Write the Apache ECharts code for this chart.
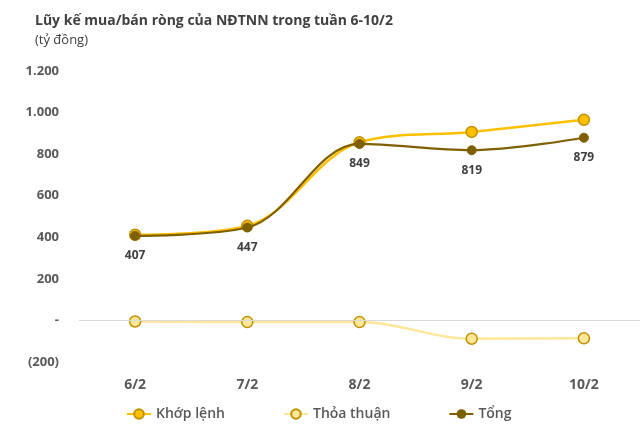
<!DOCTYPE html>
<html><head><meta charset="utf-8">
<script src="https://cdn.jsdelivr.net/npm/echarts@6/dist/echarts.min.js"></script>
<style>html,body{margin:0;padding:0;background:#fff}#c{width:640px;height:434px}</style>
</head><body><div id="c"></div>
<script>
const categories = ['6/2','7/2','8/2','9/2','10/2'];
const khopLenh = [412, 455, 857, 907, 965];
const thoaThuan = [-5, -8, -8, -88, -86];
const tong = [407, 447, 849, 819, 879];
const yTicks = [-200, 0, 200, 400, 600, 800, 1000, 1200];

const font = '"Open Sans", sans-serif';
function fmt(v){
  if (v === 0) return '-';
  const s = Math.abs(v).toString().replace(/\B(?=(\d{3})+(?!\d))/g, '.');
  return v < 0 ? '(' + s + ')' : s;
}
const chart = echarts.init(document.getElementById('c'));
chart.setOption({
  animation: false,
  title: {
    text: 'Lũy kế mua/bán ròng của NĐTNN trong tuần 6-10/2',
    subtext: '(tỷ đồng)',
    left: 30, top: 9, itemGap: 6,
    textStyle: {fontFamily: font, fontSize: 14, fontWeight: 'bold', color: '#404040'},
    subtextStyle: {fontFamily: font, fontSize: 13, color: '#404040'}
  },
  legend: {
    bottom: 8, left: 121, itemWidth: 24, itemHeight: 12, itemGap: 58,
    textStyle: {fontFamily: font, fontSize: 14, fontWeight: 600, color: '#595959'},
    data: ['Khớp lệnh', 'Thỏa thuận', 'Tổng']
  },
  grid: {left: 79, right: 0, top: 71, bottom: 72},
  xAxis: {
    type: 'category', data: categories, boundaryGap: true,
    axisLine: {show: false}, axisTick: {show: false},
    axisLabel: {margin: 16, fontFamily: font, fontSize: 14, fontWeight: 'bold', color: '#595959'}
  },
  yAxis: {
    type: 'value', min: yTicks[0], max: yTicks[yTicks.length-1], interval: 200,
    splitLine: {show: false}, axisLine: {show: false}, axisTick: {show: false},
    axisLabel: {margin: 20, fontFamily: font, fontSize: 13, fontWeight: 'bold', color: '#595959', formatter: fmt}
  },
  series: [
    {
      name: 'Khớp lệnh', type: 'line', data: khopLenh, smooth: 0.35,
      symbol: 'circle', symbolSize: 11,
      lineStyle: {color: '#FFC000', width: 2.5},
      itemStyle: {color: '#FFC000', borderColor: '#BF9000', borderWidth: 1.5},
      z: 2,
      markLine: {silent: true, symbol: 'none', label: {show: false},
        lineStyle: {color: '#d9d9d9', type: 'solid', width: 1},
        data: [{yAxis: 0}]}
    },
    {
      name: 'Thỏa thuận', type: 'line', data: thoaThuan, smooth: 0.35,
      symbol: 'circle', symbolSize: 11,
      lineStyle: {color: '#FFE699', width: 2.5},
      itemStyle: {color: '#FFE699', borderColor: '#BF9000', borderWidth: 1.5},
      z: 2
    },
    {
      name: 'Tổng', type: 'line', data: tong, smooth: 0.35,
      symbol: 'circle', symbolSize: 9,
      lineStyle: {color: '#7F6000', width: 2.2},
      itemStyle: {color: '#7F6000', borderColor: '#7F6000'},
      label: {show: true, position: 'bottom', distance: 9, fontFamily: font, fontSize: 12, fontWeight: 'bold', color: '#404040'},
      z: 3
    }
  ]
});
</script></body></html>
